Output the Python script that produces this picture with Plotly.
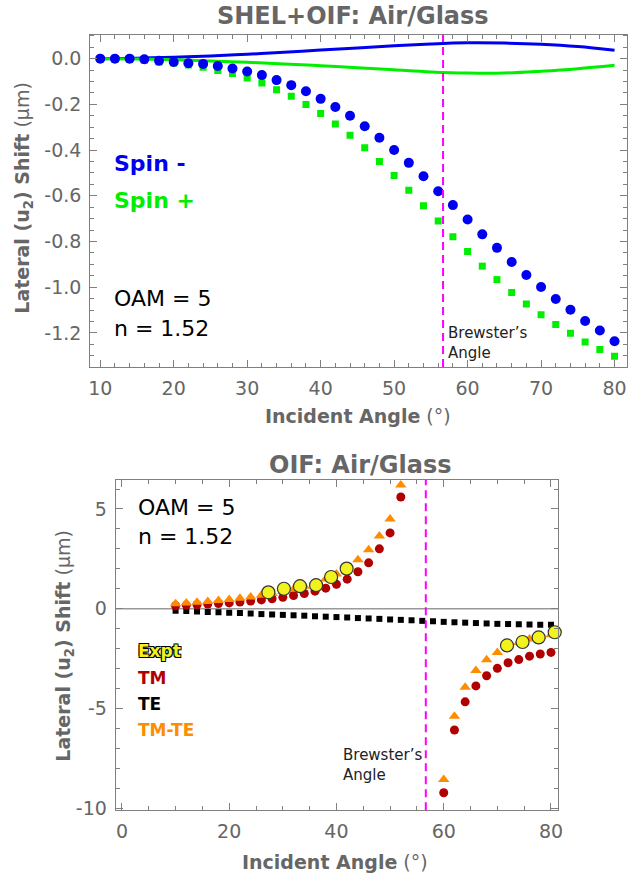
import plotly.graph_objects as go

FONT = "DejaVu Sans"
GRAY = "#666666"
FRAME = "#808080"

# ---------------- Top panel data ----------------
angles_top = [10, 12, 14, 16, 18, 20, 22, 24, 26, 28, 30, 32, 34, 36, 38, 40, 42, 44,
              46, 48, 50, 52, 54, 56, 58, 60, 62, 64, 66, 68, 70, 72, 74, 76, 78, 80]
spin_minus = [0.0, 0.0, 0.0, -0.003, -0.009, -0.015, -0.020, -0.023, -0.032, -0.043,
              -0.056, -0.072, -0.094, -0.116, -0.143, -0.176, -0.212, -0.250,
              -0.296, -0.346, -0.400, -0.456, -0.515, -0.580, -0.641, -0.704, -0.769,
              -0.828, -0.890, -0.947, -0.999, -1.052, -1.099, -1.148, -1.190, -1.237]
spin_plus = [0.0, 0.0, -0.003, -0.007, -0.015, -0.019, -0.028, -0.038, -0.052, -0.065,
             -0.085, -0.107, -0.136, -0.165, -0.201, -0.240, -0.286, -0.335,
             -0.390, -0.450, -0.511, -0.576, -0.644, -0.710, -0.779, -0.844, -0.908,
             -0.967, -1.023, -1.074, -1.121, -1.163, -1.202, -1.240, -1.273, -1.302]
angles_line = [10, 15, 20, 25, 30, 35, 40, 45, 50, 55, 60, 65, 70, 75, 80]
line_minus = [0.0, 0.002, 0.006, 0.012, 0.019, 0.028, 0.038, 0.047, 0.056, 0.064,
              0.069, 0.068, 0.063, 0.053, 0.037]
line_plus = [0.0, -0.002, -0.005, -0.010, -0.016, -0.023, -0.031, -0.040, -0.049,
             -0.058, -0.063, -0.063, -0.055, -0.044, -0.029]
top_xticks = [10, 20, 30, 40, 50, 60, 70, 80]
top_yticks = [0.0, -0.2, -0.4, -0.6, -0.8, -1.0, -1.2]
top_yticktext = ["0.0", "-0.2", "-0.4", "-0.6", "-0.8", "-1.0", "-1.2"]

# ---------------- Bottom panel data ----------------
angles_tm = [10, 12, 14, 16, 18, 20, 22, 24, 26, 28, 30, 32, 34, 36, 38, 40, 42, 44,
             46, 48, 50, 52, 60, 62, 64, 66, 68, 70, 72, 74, 76, 78, 80]
tm_vals = [0.15, 0.18, 0.20, 0.23, 0.26, 0.29, 0.33, 0.38, 0.44, 0.50, 0.57, 0.66,
           0.76, 0.88, 1.03, 1.22, 1.48, 1.85, 2.30, 3.00, 3.80, 5.60,
           -9.23, -6.08, -4.67, -3.87, -3.36, -2.99, -2.71, -2.55, -2.38, -2.27, -2.19]
tmte_vals = [0.25, 0.28, 0.32, 0.36, 0.41, 0.46, 0.52, 0.59, 0.67, 0.76, 0.86, 0.98,
             1.12, 1.29, 1.49, 1.74, 2.06, 2.45, 2.95, 3.65, 4.50, 6.20,
             -8.56, -5.39, -3.94, -3.10, -2.56, -2.19, -1.90, -1.70, -1.52, -1.40, -1.30]
angles_te = [10, 12, 14, 16, 18, 20, 22, 24, 26, 28, 30, 32, 34, 36, 38, 40, 42, 44,
             46, 48, 50, 52, 54, 56, 58, 60, 62, 64, 66, 68, 70, 72, 74, 76, 78, 80]
te_vals = [-0.10, -0.12, -0.14, -0.16, -0.18, -0.20, -0.22, -0.24, -0.27, -0.29,
           -0.31, -0.33, -0.35, -0.38, -0.40, -0.42, -0.44, -0.47, -0.49, -0.51,
           -0.54, -0.56, -0.58, -0.61, -0.63, -0.66, -0.68, -0.70, -0.72, -0.74,
           -0.76, -0.77, -0.78, -0.79, -0.80, -0.80]
angles_expt = [27.3, 30.2, 33.2, 36.2, 39.0, 41.9, 71.8, 74.7, 77.7, 80.7]
expt_vals = [0.82, 1.00, 1.13, 1.18, 1.59, 2.01, -1.84, -1.67, -1.44, -1.18]
bot_xticks = [0, 20, 40, 60, 80]
bot_yticks = [-10, -5, 0, 5]
bot_yticktext = ["-10", "-5", "0", "5"]

brewster = 56.66

BLUE = "#0000F0"
GREEN = "#00EE00"
RED = "#B00000"
ORANGE = "#FF8C00"
YELLOW = "#F2F21E"

fig = go.Figure()

# top panel
fig.add_trace(go.Scatter(x=angles_line, y=line_minus, mode="lines", line=dict(color=BLUE, width=3, shape="spline"),
                         xaxis="x", yaxis="y", showlegend=False))
fig.add_trace(go.Scatter(x=angles_line, y=line_plus, mode="lines", line=dict(color=GREEN, width=3, shape="spline"),
                         xaxis="x", yaxis="y", showlegend=False))
fig.add_trace(go.Scatter(x=angles_top, y=spin_plus, mode="markers",
                         marker=dict(symbol="square", size=7, color=GREEN),
                         xaxis="x", yaxis="y", showlegend=False))
fig.add_trace(go.Scatter(x=angles_top, y=spin_minus, mode="markers",
                         marker=dict(symbol="circle", size=10, color=BLUE),
                         xaxis="x", yaxis="y", showlegend=False))

# bottom panel
fig.add_trace(go.Scatter(x=[-5, 90], y=[0, 0], mode="lines", line=dict(color="#999999", width=1.5),
                         xaxis="x2", yaxis="y2", showlegend=False, hoverinfo="skip"))
fig.add_trace(go.Scatter(x=angles_te, y=te_vals, mode="markers",
                         marker=dict(symbol="square", size=6, color="black"),
                         xaxis="x2", yaxis="y2", showlegend=False))
fig.add_trace(go.Scatter(x=angles_tm, y=tm_vals, mode="markers",
                         marker=dict(symbol="circle", size=9, color=RED),
                         xaxis="x2", yaxis="y2", showlegend=False))
fig.add_trace(go.Scatter(x=angles_tm, y=tmte_vals, mode="markers",
                         marker=dict(symbol="triangle-up", size=10, color=ORANGE),
                         xaxis="x2", yaxis="y2", showlegend=False))
fig.add_trace(go.Scatter(x=angles_expt, y=expt_vals, mode="markers",
                         marker=dict(symbol="circle", size=13, color=YELLOW,
                                     line=dict(color="#333333", width=1.2)),
                         xaxis="x2", yaxis="y2", showlegend=False, cliponaxis=False))

W, H = 634, 882

def px_x(v):
    return v / W

def px_y(v):
    return 1 - v / H

axis_common = dict(showline=True, linecolor=FRAME, linewidth=1.2, mirror="ticks", ticks="inside",
                   tickcolor=FRAME, tickwidth=1, ticklen=7, showgrid=False, zeroline=False,
                   tickfont=dict(family=FONT, size=19, color=GRAY), ticklabelstandoff=4)

fig.update_layout(
    width=W, height=H, margin=dict(l=0, r=0, t=0, b=0),
    paper_bgcolor="white", plot_bgcolor="white",
    font=dict(family=FONT),
    xaxis=dict(domain=[px_x(89.3), px_x(632)], range=[8.65, 81.7], anchor="y",
               tickmode="array", tickvals=top_xticks,
               minor=dict(dtick=2, tick0=0, ticks="inside", ticklen=4, tickcolor=FRAME),
               **axis_common),
    yaxis=dict(domain=[px_y(370.7), px_y(35)], range=[-1.349, 0.105], anchor="x",
               tickmode="array", tickvals=top_yticks, ticktext=top_yticktext,
               minor=dict(dtick=0.05, tick0=0, ticks="inside", ticklen=4, tickcolor=FRAME),
               **axis_common),
    xaxis2=dict(domain=[px_x(115), px_x(562.7)], range=[-1.16, 81.4], anchor="y2",
                tickmode="array", tickvals=bot_xticks,
                minor=dict(dtick=5, tick0=0, ticks="inside", ticklen=4, tickcolor=FRAME),
                **axis_common),
    yaxis2=dict(domain=[px_y(818.5), px_y(485)], range=[-10.1, 6.45], anchor="x2",
                tickmode="array", tickvals=bot_yticks, ticktext=bot_yticktext,
                minor=dict(dtick=1, tick0=0, ticks="inside", ticklen=4, tickcolor=FRAME),
                **axis_common),
)

fig.add_shape(type="line", xref="x", yref="y domain", x0=brewster, x1=brewster, y0=0, y1=1,
              line=dict(color="#FF00FF", width=2, dash="8px,5px"))
fig.add_shape(type="line", xref="x2", yref="y2 domain", x0=brewster, x1=brewster, y0=0, y1=1,
              line=dict(color="#FF00FF", width=2, dash="8px,5px"))

def ann(x, y, text, size, color, xanchor="center", yanchor="middle", angle=0, shadow=None):
    font = dict(family=FONT, size=size, color=color)
    if shadow:
        font["shadow"] = shadow
    fig.add_annotation(x=x, y=y, xref="paper", yref="paper", text=text, showarrow=False,
                       xanchor=xanchor, yanchor=yanchor, textangle=angle, font=font)

# titles
ann(px_x(355), px_y(16), "<b>SHEL+OIF: Air/Glass</b>", 24, GRAY)
ann(px_x(362), px_y(470), "<b>OIF: Air/Glass</b>", 24, GRAY)
ann(px_x(360), px_y(420), "<b>Incident Angle</b> (°)", 19, GRAY)
ann(px_x(337), px_y(871), "<b>Incident Angle</b> (°)", 19, GRAY)
ann(px_x(22), px_y(200), "<b>Lateral (u<sub>2</sub>) Shift</b> (μm)", 19, GRAY, angle=-90)
ann(px_x(63), px_y(652), "<b>Lateral (u<sub>2</sub>) Shift</b> (μm)", 19, GRAY, angle=-90)

# top annotations
ann(px_x(111), px_y(165), "<b>Spin -</b>", 22, BLUE, xanchor="left")
ann(px_x(111), px_y(203), "<b>Spin +</b>", 22, GREEN, xanchor="left")
ann(px_x(111), px_y(302), "OAM = 5", 22, "black", xanchor="left")
ann(px_x(111), px_y(332), "n = 1.52", 22, "black", xanchor="left")
ann(px_x(449), px_y(336), "Brewster’s", 15, "#222222", xanchor="left")
ann(px_x(449), px_y(357), "Angle", 15, "#222222", xanchor="left")

# bottom annotations
ann(px_x(136), px_y(513), "OAM = 5", 22, "black", xanchor="left")
ann(px_x(136), px_y(542), "n = 1.52", 22, "black", xanchor="left")
ann(px_x(136), px_y(658), "<b>Expt</b>", 17, YELLOW, xanchor="left",
    shadow="1px 1px 0 #000, -1px -1px 0 #000, 1px -1px 0 #000, -1px 1px 0 #000")
ann(px_x(136), px_y(685), "<b>TM</b>", 17, RED, xanchor="left")
ann(px_x(136), px_y(711.5), "<b>TE</b>", 17, "black", xanchor="left")
ann(px_x(136), px_y(737.5), "<b>TM-TE</b>", 17, ORANGE, xanchor="left")
ann(px_x(343), px_y(763), "Brewster’s", 15, "#222222", xanchor="left")
ann(px_x(343), px_y(783), "Angle", 15, "#222222", xanchor="left")

fig.write_html("out.html")
